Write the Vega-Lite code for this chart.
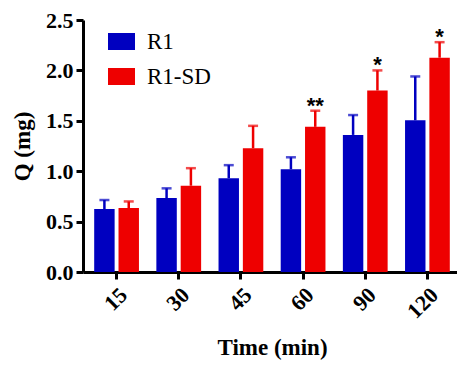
{
  "$schema": "https://vega.github.io/schema/vega-lite/v6.json",
  "width": 378,
  "height": 252,
  "autosize": {"type": "none"},
  "padding": {"left": 83, "top": 20, "right": 0, "bottom": 94},
  "background": "white",
  "config": {"view": {"stroke": null}, "font": "Liberation Serif"},
  "data": {
    "values": [
      {"time": "15", "group": "R1", "mean": 0.625, "upper": 0.714, "star": ""},
      {"time": "15", "group": "R1-SD", "mean": 0.635, "upper": 0.70, "star": ""},
      {"time": "30", "group": "R1", "mean": 0.734, "upper": 0.83, "star": ""},
      {"time": "30", "group": "R1-SD", "mean": 0.856, "upper": 1.03, "star": ""},
      {"time": "45", "group": "R1", "mean": 0.93, "upper": 1.06, "star": ""},
      {"time": "45", "group": "R1-SD", "mean": 1.227, "upper": 1.45, "star": ""},
      {"time": "60", "group": "R1", "mean": 1.019, "upper": 1.138, "star": ""},
      {"time": "60", "group": "R1-SD", "mean": 1.44, "upper": 1.60, "star": "**"},
      {"time": "90", "group": "R1", "mean": 1.36, "upper": 1.557, "star": ""},
      {"time": "90", "group": "R1-SD", "mean": 1.80, "upper": 2.0, "star": "*"},
      {"time": "120", "group": "R1", "mean": 1.505, "upper": 1.94, "star": ""},
      {"time": "120", "group": "R1-SD", "mean": 2.126, "upper": 2.28, "star": "*"}
    ]
  },
  "encoding": {
    "x": {
      "field": "time",
      "type": "ordinal",
      "sort": ["15", "30", "45", "60", "90", "120"],
      "scale": {"paddingInner": 0.28, "paddingOuter": 0.18},
      "axis": {
        "title": "Time (min)",
        "labelAngle": -45,
        "labelFont": "Liberation Serif",
        "labelFontWeight": "bold",
        "labelFontSize": 22,
        "labelColor": "black",
        "labelPadding": 5,
        "domainColor": "black",
        "domainWidth": 3,
        "tickColor": "black",
        "tickWidth": 3,
        "tickSize": 7,
        "titleFont": "Liberation Serif",
        "titleFontSize": 23,
        "titleFontWeight": "bold",
        "titleColor": "black",
        "titlePadding": 14
      }
    },
    "xOffset": {"field": "group", "type": "nominal", "scale": {"paddingInner": 0.16, "paddingOuter": 0}}
  },
  "layer": [
    {
      "mark": {"type": "bar"},
      "encoding": {
        "y": {
          "field": "mean",
          "type": "quantitative",
          "scale": {"domain": [0, 2.5], "nice": false},
          "axis": {
            "title": "Q (mg)",
            "values": [0, 0.5, 1, 1.5, 2, 2.5],
            "format": ".1f",
            "grid": false,
            "labelFont": "Liberation Serif",
            "labelFontWeight": "bold",
            "labelFontSize": 22,
            "labelColor": "black",
            "labelPadding": 3,
            "domainColor": "black",
            "domainWidth": 3,
            "tickColor": "black",
            "tickWidth": 3,
            "tickSize": 7,
            "titleFont": "Liberation Serif",
            "titleFontSize": 23,
            "titleFontWeight": "bold",
            "titleColor": "black",
            "titlePadding": 11
          }
        },
        "color": {
          "field": "group",
          "type": "nominal",
          "scale": {"domain": ["R1", "R1-SD"], "range": ["#0000c0", "#ee0000"]},
          "legend": {
            "orient": "none",
            "legendX": 25,
            "legendY": 8,
            "padding": 0,
            "title": null,
            "symbolType": "M-1,-0.63H1V0.63H-1Z",
            "symbolSize": 729,
            "symbolStrokeWidth": 0,
            "labelFont": "Liberation Serif",
            "labelFontSize": 23,
            "labelColor": "black",
            "labelOffset": 12,
            "rowPadding": 9
          }
        }
      }
    },
    {
      "mark": {"type": "rule", "strokeWidth": 2.5},
      "encoding": {
        "y": {"field": "mean", "type": "quantitative"},
        "y2": {"field": "upper"},
        "stroke": {
          "field": "group",
          "type": "nominal",
          "scale": {"domain": ["R1", "R1-SD"], "range": ["#0000c0", "#ee0000"]},
          "legend": null
        }
      }
    },
    {
      "mark": {"type": "tick", "thickness": 2.5, "size": 10, "orient": "horizontal"},
      "encoding": {
        "y": {"field": "upper", "type": "quantitative"},
        "fill": {
          "field": "group",
          "type": "nominal",
          "scale": {"domain": ["R1", "R1-SD"], "range": ["#0000c0", "#ee0000"]},
          "legend": null
        }
      }
    },
    {
      "transform": [{"filter": "datum.star != ''"}],
      "mark": {"type": "text", "baseline": "bottom", "dy": 7, "fontSize": 22, "font": "Liberation Sans", "fontWeight": "bold", "color": "black"},
      "encoding": {
        "y": {"field": "upper", "type": "quantitative"},
        "text": {"field": "star"}
      }
    }
  ]
}
